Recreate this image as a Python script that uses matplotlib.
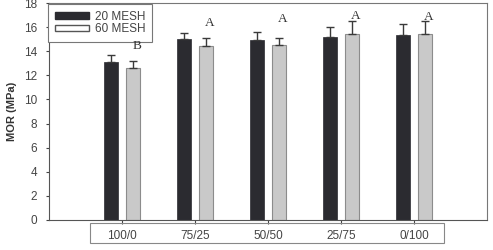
import numpy as np
import matplotlib
matplotlib.use("Agg")
import matplotlib.pyplot as plt
from matplotlib.patches import Patch, Rectangle

# Data
ratios = ["100/0", "75/25", "50/50", "25/75", "0/100"]
mor_20 = [13.1, 15.0, 14.95, 15.15, 15.35]
err_20 = [0.55, 0.55, 0.65, 0.85, 0.9]
mor_60 = [12.6, 14.45, 14.5, 15.45, 15.45]
err_60 = [0.55, 0.65, 0.6, 1.05, 1.05]
letters = ["B", "A", "A", "A", "A"]
letter_y = [14.4, 16.3, 16.7, 16.9, 16.8]

plt.rcParams['font.family'] = ['Liberation Sans', 'DejaVu Sans']

dark = "#2b2b30"
light = "#c9c9c9"
grey = "#444444"

fig = plt.figure(figsize=(4.93, 2.5), dpi=100)
ax = fig.add_axes([49 / 493, 30 / 250, 438 / 493, 217 / 250])

x = np.arange(1, len(ratios) + 1)
w = 0.18
off = 0.15
zeros = np.zeros(len(x))

ax.bar(x - off, mor_20, w, color=dark, edgecolor=dark, linewidth=0.5,
       yerr=[zeros, err_20], capsize=3, error_kw=dict(ecolor="#3a3a3a", elinewidth=1, capthick=1))
ax.bar(x + off, mor_60, w, color=light, edgecolor="#8c8c8c", linewidth=0.8,
       yerr=[zeros, err_60], capsize=3, error_kw=dict(ecolor="#3a3a3a", elinewidth=1, capthick=1))

for xi, lab, ly in zip(x, letters, letter_y):
    ax.text(xi + off + 0.05, ly, lab, ha="center", va="center", fontsize=9.5,
            family=["Liberation Serif", "DejaVu Serif"], color="#333333", zorder=6)

ax.set_xlim(0, 6)
ax.set_ylim(0, 18)
ax.set_yticks(range(0, 19, 2))
ax.set_xticks(x)
ax.set_xticklabels(ratios)
ax.tick_params(axis="y", length=2.5, pad=6, labelsize=8.5, colors=grey, labelcolor=grey)
ax.tick_params(axis="x", length=3, pad=4, labelsize=8.5, colors=grey, labelcolor=grey)
ax.set_ylabel("MOR (MPa)", fontsize=8, fontweight="bold", color="#333333", labelpad=5)

for s in ax.spines.values():
    s.set_color("#777777")
    s.set_linewidth(0.8)
ax.spines["bottom"].set_color("#555555")
ax.spines["left"].set_color("#555555")

# box around the category labels
fig.patches.append(Rectangle((90 / 493, 7 / 250), 354 / 493, 20 / 250,
                             transform=fig.transFigure, fill=False,
                             edgecolor="#888888", linewidth=0.8))

handles = [Patch(facecolor=dark, edgecolor=dark, label="20 MESH"),
           Patch(facecolor="white", edgecolor="#555555", label="60 MESH")]
leg = ax.legend(handles=handles, loc="upper left", bbox_to_anchor=(-0.002, 0.995),
                borderaxespad=0, fontsize=8.5, handlelength=2.9, handleheight=0.5,
                labelspacing=0.05, fancybox=False, framealpha=1, borderpad=0.55,
                handletextpad=0.55)
leg.get_frame().set_edgecolor("#777777")
leg.get_frame().set_linewidth(0.8)
for t in leg.get_texts():
    t.set_color(grey)

fig.savefig("out.png", dpi=100)
